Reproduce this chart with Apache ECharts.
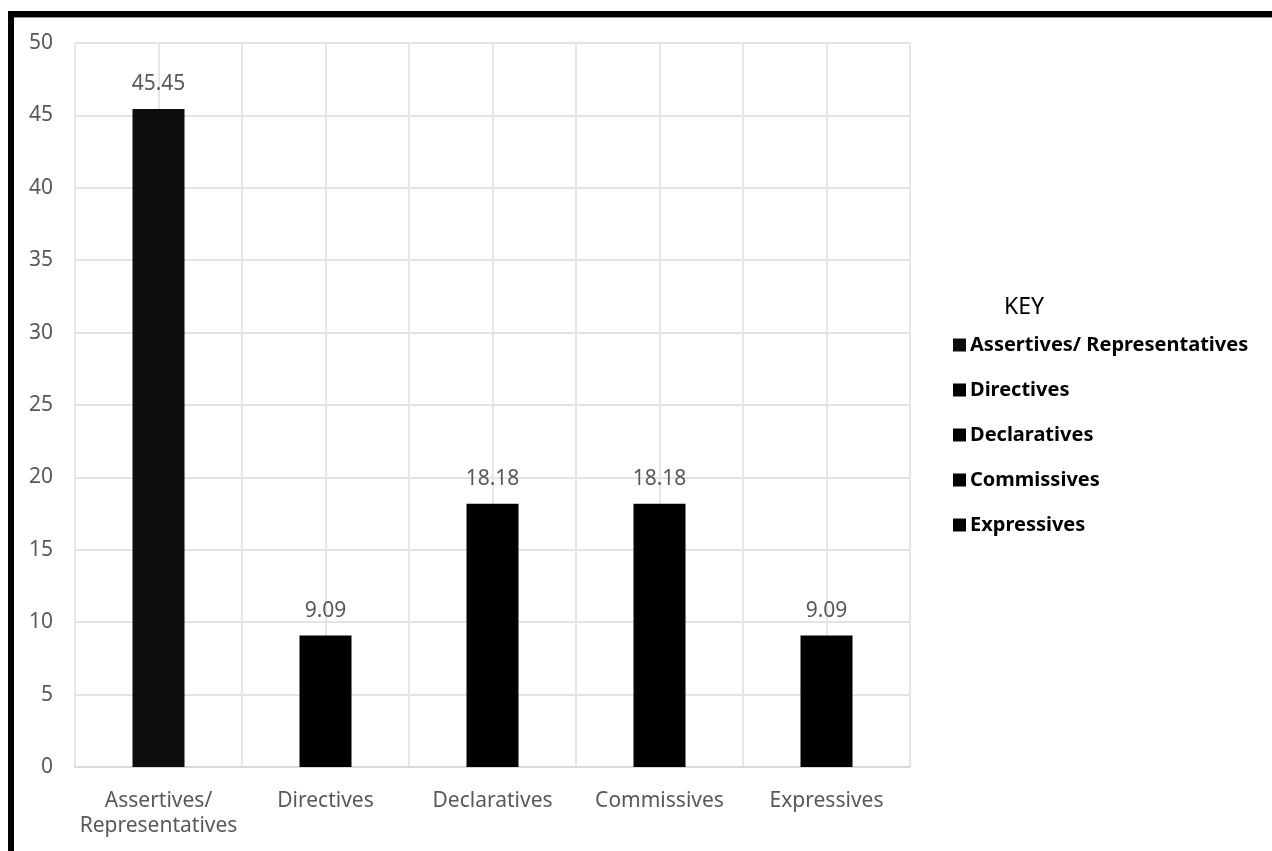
<!DOCTYPE html>
<html><head><meta charset="utf-8">
<script src="https://cdn.jsdelivr.net/npm/echarts@6/dist/echarts.min.js"></script>
<style>html,body{margin:0;padding:0;background:#fff}#c{width:1272px;height:851px}</style>
</head><body><div id="c"></div>
<script>
const categories = ['Assertives/\nRepresentatives','Directives','Declaratives','Commissives','Expressives'];
const legendNames = ['Assertives/ Representatives','Directives','Declaratives','Commissives','Expressives'];
const values = [45.45, 9.09, 18.18, 18.18, 9.09];
const yTicks = {min:0, max:50, interval:5};

const series = legendNames.map((name, i) => ({
  name: name,
  type: 'bar',
  stack: 'all',
  barWidth: 52,
  xAxisIndex: 0,
  itemStyle: {color: i===0 ? '#0d0d0d' : '#000000'},
  label: {show: true, position: 'top', distance: 14, color: '#595959', fontSize: 21, fontFamily: 'Noto Sans',
          formatter: p => p.value.toFixed(2)},
  data: values.map((v, j) => j === i ? v : '-')
}));

const chart = echarts.init(document.getElementById('c'));
chart.setOption({
  animation: false,
  backgroundColor: '#fff',
  grid: {left: 75, right: 362, top: 43, bottom: 84, containLabel: false},
  title: {text: 'KEY', left: 999, top: 291, textStyle: {fontFamily: 'Noto Sans', fontWeight: 'normal', fontSize: 23, color: '#000'}},
  legend: {
    orient: 'vertical', left: 948, top: 330, itemGap: 25, padding: 5,
    icon: 'rect', itemWidth: 13, itemHeight: 13,
    textStyle: {fontFamily: 'Noto Sans', fontWeight: 'bold', fontSize: 20, lineHeight: 20, color: '#000', padding: [0,0,0,-1]},
    data: legendNames
  },
  xAxis: [{
    type: 'category', data: categories,
    axisLine: {lineStyle: {color: '#d9d9d9', width: 2}},
    axisTick: {show: false},
    splitLine: {show: true, lineStyle: {color: '#e6e6e6', width: 2}},
    axisLabel: {color: '#595959', fontSize: 21, fontFamily: 'Noto Sans', margin: 22, lineHeight: 25, interval: 0}
  }, {
    type: 'value', min: 0, max: 10, interval: 1, position: 'bottom',
    axisLine: {show: false}, axisTick: {show: false}, axisLabel: {show: false},
    splitLine: {show: true, lineStyle: {color: '#e6e6e6', width: 2}}
  }],
  yAxis: {
    type: 'value', min: yTicks.min, max: yTicks.max, interval: yTicks.interval,
    axisLine: {show: false}, axisTick: {show: false},
    splitLine: {lineStyle: {color: '#e3e3e3', width: 2}},
    axisLabel: {color: '#595959', fontSize: 21, fontFamily: 'Noto Sans', margin: 22}
  },
  series: series,
  graphic: [
    {type: 'rect', shape: {x: 8, y: 11, width: 1264, height: 6}, style: {fill: '#000'}, z: 100},
    {type: 'rect', shape: {x: 8, y: 17, width: 1264, height: 1}, style: {fill: '#999'}, z: 100},
    {type: 'rect', shape: {x: 8, y: 11, width: 6, height: 840}, style: {fill: '#000'}, z: 100}
  ]
});
</script></body></html>
